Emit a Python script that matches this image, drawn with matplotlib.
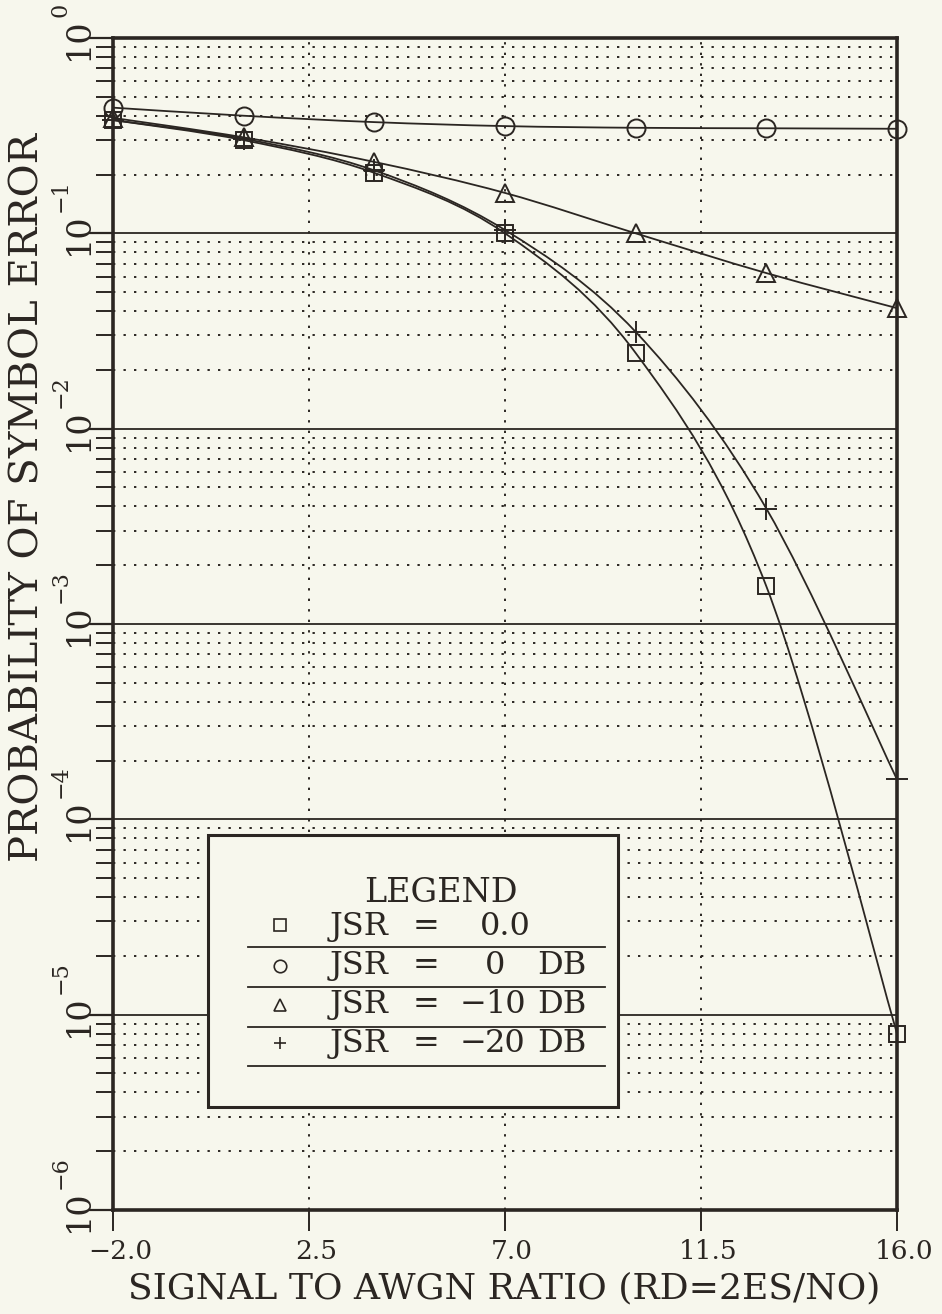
import matplotlib
matplotlib.use("Agg")
import matplotlib.pyplot as plt
import matplotlib.transforms as mtransforms
from matplotlib.path import Path
from matplotlib.patches import PathPatch, Rectangle
import numpy as np

# data
snr = [-2.0, 1.0, 4.0, 7.0, 10.0, 13.0, 16.0]
pe_jsr_none = [0.38, 0.30, 0.204, 0.100, 0.0244, 1.56e-3, 8.0e-6]
pe_jsr_0db = [0.44, 0.40, 0.371, 0.354, 0.347, 0.345, 0.343]
pe_jsr_m10db = [0.39, 0.31, 0.232, 0.161, 0.100, 0.0626, 0.0414]
pe_jsr_m20db = [0.38, 0.305, 0.21, 0.104, 0.0313, 3.9e-3, 1.6e-4]

x_ticks = [-2.0, 2.5, 7.0, 11.5, 16.0]
x_ticklabels = ["\u22122.0", "2.5", "7.0", "11.5", "16.0"]
decades = [-6, -5, -4, -3, -2, -1, 0]

INK = "#2b2622"
BG = "#f7f7ed"
SERIF = "DejaVu Serif"

plt.rcParams["font.family"] = SERIF


def smooth_path(xs, ys):
    # Catmull-Rom spline drawn as Bezier segments, in (x, log10 y) space
    lx = np.asarray(xs, float)
    ly = np.log10(ys)
    n = len(lx)
    verts = [(lx[0], ly[0])]
    codes = [Path.MOVETO]
    for i in range(n - 1):
        p0 = np.array([lx[max(i - 1, 0)], ly[max(i - 1, 0)]])
        p1 = np.array([lx[i], ly[i]])
        p2 = np.array([lx[i + 1], ly[i + 1]])
        p3 = np.array([lx[min(i + 2, n - 1)], ly[min(i + 2, n - 1)]])
        c1 = p1 + (p2 - p0) / 6.0
        c2 = p2 - (p3 - p1) / 6.0
        verts += [tuple(c1), tuple(c2), tuple(p2)]
        codes += [Path.CURVE4] * 3
    verts = [(vx, 10 ** vy) for vx, vy in verts]
    return Path(verts, codes)


fig = plt.figure(figsize=(9.42, 13.14), dpi=100, facecolor=BG)
ax = fig.add_axes([113 / 942, 1 - 1210 / 1314, 784 / 942, 1172 / 1314])
ax.set_facecolor(BG)
ax.set_yscale("log")
ax.set_xlim(-2, 16)
ax.set_ylim(1e-6, 1)

# grid
dots = (0, (1.2, 4.2))
for d in decades[:-1]:
    for m in range(2, 10):
        ax.axhline(m * 10.0 ** d, color=INK, lw=1.4, ls=dots, zorder=1)
for d in decades[1:-1]:
    ax.axhline(10.0 ** d, color=INK, lw=1.3, zorder=1)
for xv in x_ticks[1:-1]:
    ax.axvline(xv, color=INK, lw=1.4, ls=dots, zorder=1)

series = [
    (pe_jsr_none, "s", 12),
    (pe_jsr_0db, "o", 13),
    (pe_jsr_m10db, "^", 13),
    (pe_jsr_m20db, "+", 16),
]
for vals, mk, ms in series:
    ax.add_patch(PathPatch(smooth_path(snr, vals), fill=False, edgecolor=INK,
                           lw=1.3, zorder=3, clip_on=False))
    ax.plot(snr, vals, ls="none", marker=mk, ms=ms, mfc="none", mec=INK,
            mew=1.4, zorder=4, clip_on=False)

for s in ax.spines.values():
    s.set_linewidth(2.6)
    s.set_color(INK)

ax.set_xticks(x_ticks)
ax.set_xticklabels(x_ticklabels)
ax.tick_params(axis="x", direction="out", length=15, width=1.4, color=INK,
               labelsize=19, labelcolor=INK, pad=6)
for lab in ax.get_xticklabels():
    lab.set_transform(lab.get_transform() + mtransforms.ScaledTranslation(
        7 / 100, 0, fig.dpi_scale_trans))

ax.set_yticks([10.0 ** d for d in decades])
ax.set_yticklabels([])
ax.set_yticks([m * 10.0 ** d for d in decades[:-1] for m in range(2, 10)],
              minor=True)
ax.yaxis.set_minor_formatter(plt.NullFormatter())
ax.tick_params(axis="y", which="major", direction="out", length=18,
               width=1.6, color=INK)
ax.tick_params(axis="y", which="minor", direction="out", length=12,
               width=1.4, color=INK)

# y tick labels: "10" plus a raised exponent, both rotated
blend = mtransforms.blended_transform_factory(ax.transAxes, ax.transData)
base_tr = blend + mtransforms.ScaledTranslation(0, -22 / 100,
                                               fig.dpi_scale_trans)
exp_tr = blend + mtransforms.ScaledTranslation(0, 21 / 100,
                                              fig.dpi_scale_trans)
for d in decades:
    ax.text(-25 / 784, 10.0 ** d, "10", transform=base_tr, rotation=90,
            rotation_mode="anchor", ha="left", va="baseline", fontsize=24,
            color=INK, clip_on=False)
    ax.text(-46 / 784, 10.0 ** d, "\u2212%d" % -d if d else "0",
            transform=exp_tr, rotation=90, rotation_mode="anchor",
            ha="left", va="baseline", fontsize=16, color=INK, clip_on=False)

fig.text(504 / 942, 1 - 1288 / 1314, "SIGNAL TO AWGN RATIO (RD=2ES/NO)",
         ha="center", va="center", fontsize=26, color=INK)
fig.text(28 / 942, 1 - 497 / 1314, "PROBABILITY OF SYMBOL ERROR",
         ha="center", va="center", rotation=90, fontsize=29, color=INK)


# legend box, drawn by hand as in the original
def ax_xy(px, py):
    return (px - 113) / 784, (1210 - py) / 1172


x0, y0 = ax_xy(208, 1107)
x1, y1 = ax_xy(618, 835)
ax.add_patch(Rectangle((x0, y0), x1 - x0, y1 - y0, transform=ax.transAxes,
                       facecolor=BG, edgecolor=INK, lw=2.2, zorder=5))
lx, ly = ax_xy(441, 893)
ax.text(lx, ly, "LEGEND", transform=ax.transAxes, ha="center", va="center",
        fontsize=24, color=INK, zorder=6)

rows = [
    ("s", [("0.0", 480)], 935, 947, 925),
    ("o", [("0", 485), ("DB", 537)], 974, 987, 966),
    ("^", [("\u2212", 460), ("10", 485), ("DB", 537)], 1013, 1027, 1005),
    ("+", [("\u2212", 460), ("20", 485), ("DB", 537)], 1052, 1066, 1043),
]
for mk, parts, base, sep, mky in rows:
    mx, my = ax_xy(280, mky)
    ax.plot([mx], [my], transform=ax.transAxes, marker=mk, ms=9, mfc="none",
            mec=INK, mew=1.2, ls="none", zorder=6)
    tx, ty = ax_xy(330, base)
    ax.text(tx, ty, "JSR", transform=ax.transAxes, ha="left",
            va="baseline", fontsize=23, color=INK, zorder=6)
    ax.text(ax_xy(413, base)[0], ty, "=", transform=ax.transAxes, ha="left",
            va="baseline", fontsize=23, color=INK, zorder=6)
    for txt, px in parts:
        ax.text(ax_xy(px, base)[0], ty, txt, transform=ax.transAxes,
                ha="left", va="baseline", fontsize=23, color=INK, zorder=6)
    sx0, sy = ax_xy(248, sep)
    sx1, _ = ax_xy(605, sep)
    ax.plot([sx0, sx1], [sy, sy], transform=ax.transAxes, color=INK, lw=1.3,
            zorder=6)

fig.savefig("out.png", dpi=100, facecolor=BG)
